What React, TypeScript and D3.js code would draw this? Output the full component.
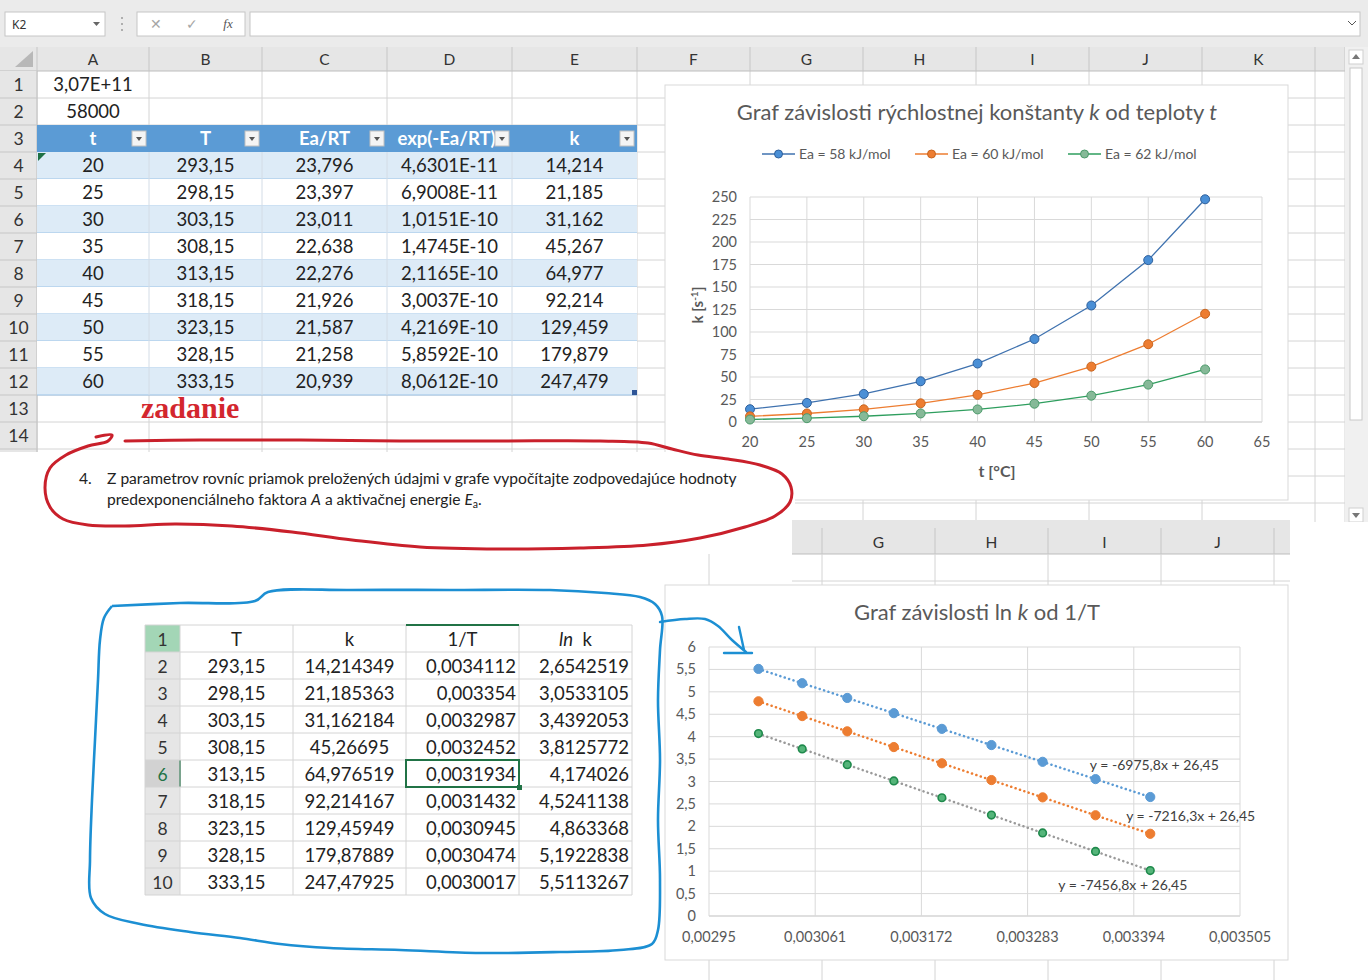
import React from 'react'
import * as d3 from 'd3'

const W = 1368
const H = 980
const FONT = "Lato, 'Noto Sans', sans-serif"

// ---- top sheet (table of values)
const colLetters = ['A', 'B', 'C', 'D', 'E', 'F', 'G', 'H', 'I', 'J', 'K']
const colEdges = [37, 149, 262, 387, 512, 637, 750, 863, 976, 1089, 1202, 1315]
const headers = ['t', 'T', 'Ea/RT', 'exp(-Ea/RT)', 'k']
const tVals = ['20', '25', '30', '35', '40', '45', '50', '55', '60']
const TVals = ['293,15', '298,15', '303,15', '308,15', '313,15', '318,15', '323,15', '328,15', '333,15']
const eaRT = ['23,796', '23,397', '23,011', '22,638', '22,276', '21,926', '21,587', '21,258', '20,939']
const expVals = ['4,6301E-11', '6,9008E-11', '1,0151E-10', '1,4745E-10', '2,1165E-10', '3,0037E-10', '4,2169E-10', '5,8592E-10', '8,0612E-10']
const kVals = ['14,214', '21,185', '31,162', '45,267', '64,977', '92,214', '129,459', '179,879', '247,479']

// ---- bottom table
const btHeaders = ['T', 'k', '1/T', 'ln k']
const btT = ['293,15', '298,15', '303,15', '308,15', '313,15', '318,15', '323,15', '328,15', '333,15']
const btK = ['14,214349', '21,185363', '31,162184', '45,26695', '64,976519', '92,214167', '129,45949', '179,87889', '247,47925']
const btInv = ['0,0034112', '0,003354', '0,0032987', '0,0032452', '0,0031934', '0,0031432', '0,0030945', '0,0030474', '0,0030017']
const btLn = ['2,6542519', '3,0533105', '3,4392053', '3,8125772', '4,174026', '4,5241138', '4,863368', '5,1922838', '5,5113267']

// ---- chart 1: k vs t
const tempC = [20, 25, 30, 35, 40, 45, 50, 55, 60]
const k58 = [14.214, 21.185, 31.162, 45.267, 64.977, 92.214, 129.459, 179.879, 247.479]
const k60 = [6.26, 9.46, 14.1, 20.74, 30.15, 43.3, 61.52, 86.44, 120.24]
const k62 = [2.76, 4.22, 6.38, 9.5, 13.99, 20.33, 29.22, 41.54, 58.41]
const seriesNames = ['Ea = 58 kJ/mol', 'Ea = 60 kJ/mol', 'Ea = 62 kJ/mol']
const xTicksTop = [20, 25, 30, 35, 40, 45, 50, 55, 60, 65]
const yTicksTop = [0, 25, 50, 75, 100, 125, 150, 175, 200, 225, 250]

// ---- chart 2: ln k vs 1/T
const invT = [0.0034112, 0.003354, 0.0032987, 0.0032452, 0.0031934, 0.0031432, 0.0030945, 0.0030474, 0.0030017]
const lnk58 = [2.6543, 3.0533, 3.4392, 3.8126, 4.174, 4.5241, 4.8634, 5.1923, 5.5113]
const lnk60 = [1.834, 2.247, 2.646, 3.032, 3.406, 3.768, 4.119, 4.459, 4.789]
const lnk62 = [1.014, 1.44, 1.853, 2.252, 2.638, 3.012, 3.375, 3.727, 4.068]
const slopes = [-6975.8, -7216.3, -7456.8]
const intercept = 26.45
const eqLabels = ['y = -6975,8x + 26,45', 'y = -7216,3x + 26,45', 'y = -7456,8x + 26,45']
const xTicksBot = [0.00295, 0.003061, 0.003172, 0.003283, 0.003394, 0.003505]
const yTicksBot = [0, 0.5, 1, 1.5, 2, 2.5, 3, 3.5, 4, 4.5, 5, 5.5, 6]

const comma = (v: number) => String(v).replace('.', ',')

const redLoop: [number, number][] = [
  [96, 437], [112, 435], [108, 441], [88, 446], [66, 455], [50, 468], [45, 488], [50, 507], [63, 519], [88, 525],
  [125, 526], [175, 524], [232, 526], [292, 532], [352, 540], [420, 547], [500, 549], [580, 548], [648, 545],
  [700, 538], [745, 527], [775, 516], [790, 502], [791, 487], [782, 474], [760, 465], [728, 459], [698, 455],
  [672, 449], [648, 443], [600, 441], [500, 441], [400, 441], [300, 440], [200, 440], [125, 441],
]
const blueLoop: [number, number][] = [
  [112, 606], [180, 603], [255, 601], [268, 592], [350, 590], [450, 590], [550, 590], [605, 593], [640, 597],
  [655, 604], [662, 616], [660, 650], [658, 700], [660, 760], [658, 820], [660, 880], [658, 930], [652, 944],
  [620, 950], [560, 952], [480, 953], [400, 950], [330, 948], [280, 944], [240, 938], [190, 932], [140, 924],
  [105, 914], [91, 898], [90, 860], [92, 800], [95, 740], [98, 680], [100, 640], [104, 618], [112, 606],
]
const blueArrow: [number, number][] = [[660, 622], [685, 619], [705, 619], [718, 626], [732, 640], [746, 652]]

const topColors = [
  { line: '#3f72af', fill: '#4a8fd6', stroke: '#2f609c' },
  { line: '#ed7d31', fill: '#ed7d31', stroke: '#c8651f' },
  { line: '#2e9e5e', fill: '#86b998', stroke: '#4b9a6a' },
]
const botColors = [
  { trend: '#5b9bd5', fill: '#5b9bd5', stroke: '#5b9bd5' },
  { trend: '#ed7d31', fill: '#ed7d31', stroke: '#ed7d31' },
  { trend: '#9a9a9a', fill: '#55b57a', stroke: '#1f8a4c' },
]

const CELL = 18.5

function TopSheet() {
  const rowTop = 71
  const rowH = 27
  const rows = d3.range(1, 15)
  const centers = colEdges.slice(0, -1).map((e, i) => (e + colEdges[i + 1]) / 2)
  const tableCols = [tVals, TVals, eaRT, expVals, kVals]
  return (
    <g fontFamily={FONT}>
      {/* formula bar */}
      <rect x={0} y={0} width={W} height={47} fill="#ebebeb" />
      <rect x={5} y={12} width={100} height={24} fill="#fff" stroke="#c6c6c6" />
      <text x={12} y={29} fontSize={12} fill="#333" fontFamily="'Noto Sans', sans-serif">K2</text>
      <path d="M93,22 L100,22 L96.5,26 Z" fill="#666" />
      {[18, 24, 30].map(y => <circle key={y} cx={122} cy={y} r={1} fill="#9a9a9a" />)}
      <rect x={137} y={12} width={108} height={24} fill="#fff" stroke="#c6c6c6" />
      <text x={156} y={29} fontSize={14} fill="#a6a6a6" textAnchor="middle">✕</text>
      <text x={192} y={29} fontSize={14} fill="#a6a6a6" textAnchor="middle">✓</text>
      <text x={228} y={28} fontSize={13} fill="#555" fontStyle="italic" fontFamily="'Liberation Serif', serif" textAnchor="middle">fx</text>
      <rect x={250} y={12} width={1110} height={24} fill="#fff" stroke="#c6c6c6" />
      <path d="M1348,21 L1352,25 L1356,21" fill="none" stroke="#555" />

      {/* grid */}
      <rect x={0} y={47} width={1345} height={475} fill="#fff" />
      {rows.concat([15, 16]).map(r => (
        <line key={r} x1={37} x2={1345} y1={rowTop + r * rowH} y2={rowTop + r * rowH} stroke="#d4d4d4" />
      ))}
      {colEdges.concat([1345]).map(e => (
        <line key={e} x1={e} x2={e} y1={71} y2={522} stroke="#d4d4d4" />
      ))}

      {/* column header */}
      <rect x={0} y={47} width={1345} height={24} fill="#e6e6e6" />
      <line x1={0} x2={1345} y1={71} y2={71} stroke="#bdbdbd" />
      {colEdges.concat([1345]).map(e => (
        <line key={e} x1={e} x2={e} y1={47} y2={71} stroke="#c6c6c6" />
      ))}
      <path d="M15,67 L33,67 L33,51 Z" fill="#b8b8b8" />
      {colLetters.map((c, i) => (
        <text key={c} x={centers[i]} y={65} fontSize={15.5} fill="#333" textAnchor="middle">{c}</text>
      ))}

      {/* row header */}
      <rect x={0} y={71} width={37} height={384} fill="#e6e6e6" />
      <line x1={37} x2={37} y1={71} y2={455} stroke="#bdbdbd" />
      {rows.map(r => (
        <g key={r}>
          <line x1={0} x2={37} y1={rowTop + r * rowH} y2={rowTop + r * rowH} stroke="#c6c6c6" />
          <text x={18.5} y={rowTop + (r - 1) * rowH + 20} fontSize={17.5} fill="#333" textAnchor="middle">{r}</text>
        </g>
      ))}

      <text x={93} y={rowTop + 20} fontSize={CELL} fill="#222" textAnchor="middle">3,07E+11</text>
      <text x={93} y={rowTop + rowH + 20} fontSize={CELL} fill="#222" textAnchor="middle">58000</text>

      {/* table */}
      <rect x={37} y={rowTop + 2 * rowH} width={600} height={rowH} fill="#5b9bd5" />
      {headers.map((h, i) => (
        <text key={h} x={centers[i] - (i === 3 ? 3 : 0)} y={rowTop + 2 * rowH + 20} fontSize={CELL} fontWeight="bold" fill="#fff" textAnchor="middle">{h}</text>
      ))}
      {headers.map((h, i) => (
        <g key={h}>
          <rect x={colEdges[i + 1] - 17} y={rowTop + 2 * rowH + 6} width={14} height={15} fill="#f4f4f4" stroke="#c0c0c0" />
          <path d={`M${colEdges[i + 1] - 13},${rowTop + 2 * rowH + 12} L${colEdges[i + 1] - 7},${rowTop + 2 * rowH + 12} L${colEdges[i + 1] - 10},${rowTop + 2 * rowH + 16} Z`} fill="#555" />
        </g>
      ))}
      {tVals.map((_, j) => {
        const y0 = rowTop + (3 + j) * rowH
        return (
          <g key={j}>
            <rect x={37} y={y0} width={600} height={rowH} fill={j % 2 === 0 ? '#ddebf7' : '#fff'} />
            <line x1={37} x2={637} y1={y0 + rowH} y2={y0 + rowH} stroke="#9bc2e6" />
            {[149, 262, 387, 512].map(e => <line key={e} x1={e} x2={e} y1={y0} y2={y0 + rowH} stroke="#d3dce6" />)}
            {tableCols.map((col, i) => (
              <text key={i} x={centers[i]} y={y0 + 20} fontSize={CELL} fill="#222" textAnchor="middle">{col[j]}</text>
            ))}
          </g>
        )
      })}
      <path d="M38,153 L46,153 L38,161 Z" fill="#1e7145" />
      <rect x={632} y={390} width={5} height={5} fill="#2f5597" />
      <text x={141} y={418} fontSize={30} fontWeight="bold" fill="#d3262e" fontFamily="'Liberation Serif', serif">zadanie</text>

      {/* scrollbar */}
      <rect x={1345} y={47} width={23} height={477} fill="#f0f0f0" />
      <rect x={1349} y={50} width={14} height={14} fill="#fff" stroke="#cfcfcf" />
      <path d="M1352,59 L1360,59 L1356,54 Z" fill="#777" />
      <rect x={1350} y={68} width={12} height={352} fill="#fff" stroke="#c8c8c8" />
      <rect x={1349} y={508} width={14} height={14} fill="#fff" stroke="#cfcfcf" />
      <path d="M1352,513 L1360,513 L1356,518 Z" fill="#777" />
    </g>
  )
}

function KChart() {
  const x = d3.scaleLinear().domain([20, 65]).range([750, 1262])
  const y = d3.scaleLinear().domain([0, 250]).range([422, 197])
  const series = [k58, k60, k62]
  const line = d3.line<number>().x((_, i) => x(tempC[i])).y(d => y(d))
  const legendX = [762, 915, 1068]
  return (
    <g fontFamily={FONT}>
      <rect x={665} y={85} width={623} height={415} fill="#fff" stroke="#d9d9d9" />
      <text x={977} y={120} fontSize={22} fill="#595959" textAnchor="middle">
        Graf závislosti rýchlostnej konštanty <tspan fontStyle="italic">k</tspan> od teploty <tspan fontStyle="italic">t</tspan>
      </text>
      {seriesNames.map((n, i) => (
        <g key={n}>
          <line x1={legendX[i]} x2={legendX[i] + 33} y1={154} y2={154} stroke={topColors[i].line} strokeWidth={1.3} />
          <circle cx={legendX[i] + 16.5} cy={154} r={4} fill={topColors[i].fill} stroke={topColors[i].stroke} />
          <text x={legendX[i] + 37} y={159} fontSize={14} fill="#595959">{n}</text>
        </g>
      ))}
      {yTicksTop.map(t => (
        <g key={t}>
          <line x1={750} x2={1262} y1={y(t)} y2={y(t)} stroke={t === 0 ? '#bfbfbf' : '#d9d9d9'} />
          <text x={737} y={y(t) + 5} fontSize={14.5} fill="#595959" textAnchor="end">{t}</text>
        </g>
      ))}
      {xTicksTop.map(t => (
        <g key={t}>
          <line x1={x(t)} x2={x(t)} y1={197} y2={422} stroke="#d9d9d9" />
          <text x={x(t)} y={447} fontSize={14.5} fill="#595959" textAnchor="middle">{t}</text>
        </g>
      ))}
      <text transform="translate(703,305) rotate(-90)" fontSize={15} fontWeight="bold" fill="#595959" textAnchor="middle">
        k [s<tspan dy={-5} fontSize={10}>-1</tspan><tspan dy={5}>]</tspan>
      </text>
      <text x={997} y={477} fontSize={16} fontWeight="bold" fill="#595959" textAnchor="middle">t [°C]</text>
      {series.map((s, i) => (
        <g key={i}>
          <path d={line(s) || ''} fill="none" stroke={topColors[i].line} strokeWidth={1.3} />
          {s.map((v, j) => (
            <circle key={j} cx={x(tempC[j])} cy={y(v)} r={4.5} fill={topColors[i].fill} stroke={topColors[i].stroke} strokeWidth={1} />
          ))}
        </g>
      ))}
    </g>
  )
}

function LnChart() {
  const x = d3.scaleLinear().domain([0.00295, 0.003505]).range([709, 1240])
  const y = d3.scaleLinear().domain([0, 6]).range([916, 647])
  const series = [lnk58, lnk60, lnk62]
  const xMin = d3.min(invT) as number
  const xMax = d3.max(invT) as number
  const labelAt: [number, number, number][] = [[0.003348, 3.26, 0], [0.003386, 2.13, 1], [0.003315, 0.59, 2]]
  return (
    <g fontFamily={FONT}>
      <rect x={665} y={585} width={623} height={375} fill="#fff" stroke="#d9d9d9" />
      <text x={977} y={620} fontSize={22} fill="#595959" textAnchor="middle">
        Graf závislosti ln <tspan fontStyle="italic">k</tspan> od 1/T
      </text>
      {yTicksBot.map(t => (
        <g key={t}>
          <line x1={709} x2={1240} y1={y(t)} y2={y(t)} stroke={t === 0 ? '#bfbfbf' : '#d9d9d9'} />
          <text x={696} y={y(t) + 5} fontSize={14.5} fill="#595959" textAnchor="end">{comma(t)}</text>
        </g>
      ))}
      {xTicksBot.map(t => (
        <g key={t}>
          <line x1={x(t)} x2={x(t)} y1={647} y2={916} stroke="#d9d9d9" />
          <text x={x(t)} y={942} fontSize={14.5} fill="#595959" textAnchor="middle">{comma(t)}</text>
        </g>
      ))}
      {series.map((s, i) => (
        <g key={i}>
          <line
            x1={x(xMin)} y1={y(slopes[i] * xMin + intercept)}
            x2={x(xMax)} y2={y(slopes[i] * xMax + intercept)}
            stroke={botColors[i].trend} strokeWidth={2.5} strokeDasharray="0.1 4.5" strokeLinecap="round"
          />
          {s.map((v, j) => (
            <circle key={j} cx={x(invT[j])} cy={y(v)} r={i === 2 ? 3.8 : 4.6} fill={botColors[i].fill} stroke={botColors[i].stroke} strokeWidth={i === 2 ? 1.6 : 1} />
          ))}
        </g>
      ))}
      {labelAt.map(([lx, ly, i]) => (
        <text key={i} x={x(lx)} y={y(ly)} fontSize={14} fill="#404040">{eqLabels[i]}</text>
      ))}
    </g>
  )
}

function BottomTable() {
  const x0 = 145
  const edges = [145, 180, 293, 406, 519, 632]
  const top = 625
  const rh = 27
  const cols = [btT, btK, btInv, btLn]
  const align = ['middle', 'middle', 'end', 'end']
  const nums = d3.range(1, 11)
  return (
    <g fontFamily={FONT}>
      <rect x={x0} y={top} width={35} height={rh * 10} fill="#e6e6e6" />
      <rect x={x0} y={top} width={35} height={rh} fill="#a3d6b6" />
      <rect x={x0} y={top + 5 * rh} width={35} height={rh} fill="#d2d2d2" />
      <line x1={180} x2={180} y1={top + 5 * rh} y2={top + 6 * rh} stroke="#217346" strokeWidth={2} />
      {nums.map(n => (
        <line key={n} x1={x0} x2={632} y1={top + n * rh} y2={top + n * rh} stroke="#d4d4d4" />
      ))}
      <line x1={x0} x2={632} y1={top} y2={top} stroke="#d4d4d4" />
      {edges.map(e => <line key={e} x1={e} x2={e} y1={top} y2={top + 10 * rh} stroke="#d4d4d4" />)}
      <line x1={406} x2={519} y1={top} y2={top} stroke="#217346" strokeWidth={2} />
      {nums.map(n => (
        <text key={n} x={162.5} y={top + (n - 1) * rh + 20.5} fontSize={17.5} fill={n === 6 ? '#217346' : '#333'} textAnchor="middle">{n}</text>
      ))}
      {btHeaders.map((h, i) => (
        <text key={h} x={(edges[i + 1] + edges[i + 2]) / 2} y={top + 20.5} fontSize={CELL} fill="#222" textAnchor="middle">
          {h === 'ln k' ? <><tspan fontStyle="italic">ln</tspan>{'\u00a0 k'}</> : h}
        </text>
      ))}
      {cols.map((col, i) =>
        col.map((v, j) => (
          <text
            key={`${i}-${j}`}
            x={align[i] === 'end' ? edges[i + 2] - 3 : (edges[i + 1] + edges[i + 2]) / 2}
            y={top + (j + 1) * rh + 20.5}
            fontSize={CELL} fill="#222" textAnchor={align[i]}
          >{v}</text>
        ))
      )}
      <rect x={406} y={top + 5 * rh} width={113} height={rh} fill="none" stroke="#217346" strokeWidth={2} />
      <rect x={517} y={top + 6 * rh - 2} width={5} height={5} fill="#217346" />
    </g>
  )
}

export default function App() {
  const curve = d3.line().curve(d3.curveCatmullRom.alpha(0.5))
  return (
    <div style={{ position: 'absolute', left: 0, top: 0 }}>
      <svg width={W} height={H} viewBox={`0 0 ${W} ${H}`} style={{ display: 'block', background: '#fff' }}>
        <TopSheet />
        <KChart />

        {/* lower part of the page */}
        <rect x={0} y={522} width={W} height={458} fill="#fff" />
        <rect x={0} y={452} width={795} height={130} fill="#fff" />

        {/* second sheet header */}
        <rect x={792} y={520} width={498} height={34} fill="#e6e6e6" />
        <line x1={792} x2={1290} y1={554} y2={554} stroke="#bdbdbd" />
        {[822, 935, 1048, 1161, 1274].map(e => (
          <line key={e} x1={e} x2={e} y1={528} y2={554} stroke="#c6c6c6" />
        ))}
        {['G', 'H', 'I', 'J'].map((c, i) => (
          <text key={c} x={878.5 + i * 113} y={548} fontSize={15.5} fill="#333" textAnchor="middle" fontFamily={FONT}>{c}</text>
        ))}
        {[709, 822, 935, 1048, 1161, 1274].map(e => (
          <line key={e} x1={e} x2={e} y1={554} y2={980} stroke="#d4d4d4" />
        ))}
        <line x1={792} x2={1290} y1={581} y2={581} stroke="#d4d4d4" />

        {/* annotation */}
        <g fontFamily={FONT} fontSize={15.6} fill="#222">
          <text x={79} y={484}>4.</text>
          <text x={107} y={484}>Z parametrov rovníc priamok preložených údajmi v grafe vypočítajte zodpovedajúce hodnoty</text>
          <text x={107} y={505}>
            predexponenciálneho faktora <tspan fontStyle="italic">A</tspan> a aktivačnej energie <tspan fontStyle="italic">E</tspan>
            <tspan fontSize={10.5} dy={3}>a</tspan><tspan dy={-3}>.</tspan>
          </text>
        </g>
        <path d={curve(redLoop) || ''} fill="none" stroke="#c9202b" strokeWidth={3} strokeLinejoin="round" strokeLinecap="round" />

        <BottomTable />
        <LnChart />
        <path d={curve(blueLoop) || ''} fill="none" stroke="#1c8fd3" strokeWidth={2.6} strokeLinejoin="round" />
        <path d={curve(blueArrow) || ''} fill="none" stroke="#1c8fd3" strokeWidth={2.4} strokeLinecap="round" />
        <line x1={724} x2={752} y1={653} y2={653} stroke="#1c8fd3" strokeWidth={2.4} strokeLinecap="round" />
        <line x1={739} x2={744} y1={627} y2={650} stroke="#1c8fd3" strokeWidth={2.4} strokeLinecap="round" />
      </svg>
    </div>
  )
}
